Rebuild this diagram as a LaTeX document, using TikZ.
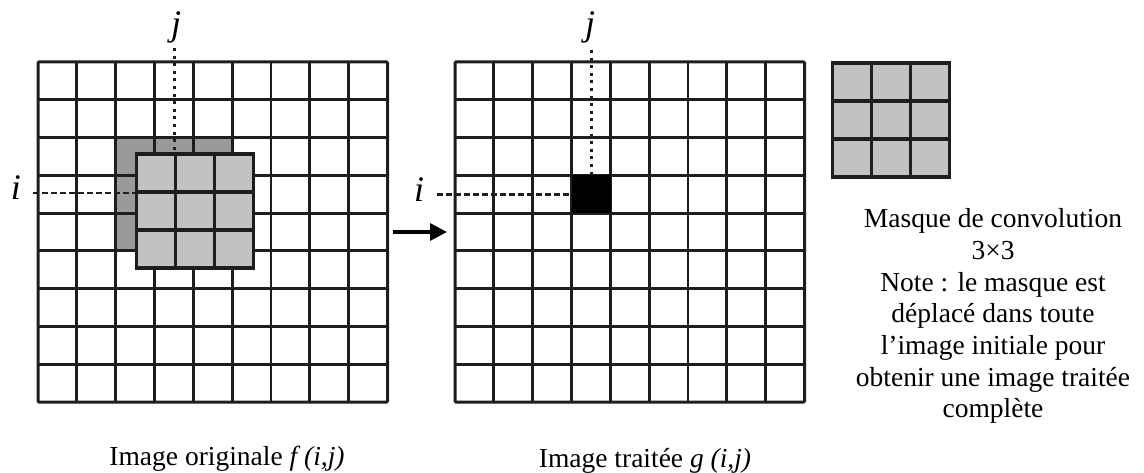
\documentclass[tikz,border=0pt]{standalone}
\usepackage{fontspec}
\setmainfont{Liberation Serif}
\usetikzlibrary{calc,arrows.meta,backgrounds}
\definecolor{gline}{HTML}{1E1E1E}
\definecolor{darkfill}{HTML}{9A9A9A}
\definecolor{lightfill}{HTML}{C2C2C2}
\begin{document}
\begin{tikzpicture}[x=1pt,y=-1pt,
  gridline/.style={draw=gline,line width=2.9pt},
  gridbox/.style={draw=gline,line width=3pt,minimum width=349.5pt,minimum height=340pt,inner sep=0pt,outer sep=0pt,rounded corners=1pt},
  maskbox/.style={draw=gline,line width=3.2pt,fill=lightfill,minimum width=117pt,minimum height=114pt,inner sep=0pt,outer sep=0pt},
  maskline/.style={draw=gline,line width=3.2pt},
  pixbox/.style={fill=black,minimum width=38.8pt,minimum height=37.8pt,inner sep=0pt,outer sep=0pt},
  lbl/.style={font=\fontsize{27.5}{31.7}\selectfont,inner sep=0pt},
  idx/.style={font=\fontsize{36}{40}\selectfont\itshape,inner sep=0pt,anchor=base},
  dotline/.style={draw=gline,line width=3pt,dash pattern=on 3pt off 4.6pt},
  dashline/.style={draw=gline,line width=2.8pt,dash pattern=on 5.5pt off 3.5pt},
]
\useasboundingbox (0,0) rectangle (1144,473);

% ---------- left grid: original image ----------
\node[gridbox] (L) at (212.75,232) {};
\node[maskbox] (M1) at (195,211) {};
\foreach \k in {1,2} {
  \draw[maskline] ($(M1.north west)!\k/3!(M1.north east)$) -- ($(M1.south west)!\k/3!(M1.south east)$);
  \draw[maskline] ($(M1.north west)!\k/3!(M1.south west)$) -- ($(M1.north east)!\k/3!(M1.south east)$);
}
\node[idx] (jl) at (176,36) {j};
\node[idx] (il) at (16,200) {i};
\coordinate (jLs) at (174.5,48);
\coordinate (iLs) at (33,193);
\begin{scope}[on background layer]
  \fill[darkfill] (115.7,137.6) rectangle (232.2,250.9);
  \foreach \k in {1,...,8} {
    \draw[gridline] ($(L.north west)!\k/9!(L.north east)$) -- ($(L.south west)!\k/9!(L.south east)$);
    \draw[gridline] ($(L.north west)!\k/9!(L.south west)$) -- ($(L.north east)!\k/9!(L.south east)$);
  }
  \draw[dotline] (jLs) -- (jLs |- M1.north);
  \draw[dashline] (iLs) -- (iLs -| M1.west);
\end{scope}

% ---------- right grid: processed image ----------
\node[gridbox] (R) at (629.75,232) {};
\foreach \k in {1,...,8} {
  \draw[gridline] ($(R.north west)!\k/9!(R.north east)$) -- ($(R.south west)!\k/9!(R.south east)$);
  \draw[gridline] ($(R.north west)!\k/9!(R.south west)$) -- ($(R.north east)!\k/9!(R.south east)$);
}
\node[pixbox] (P) at (591.2,194.2) {};
\node[idx] (jr) at (590,36) {j};
\node[idx] (ir) at (419,202) {i};
\coordinate (jRs) at (591.2,50);
\coordinate (iRs) at (437,194.2);
\draw[dotline] (jRs) -- (P.north);
\draw[dashline] (iRs) -- (P.west);

% ---------- arrow ----------
\draw[draw=black,line width=3.2pt,-{Triangle[length=17pt,width=17pt]},shorten <=5pt,shorten >=8pt] (L.east) -- (R.west);

% ---------- mask ----------
\node[maskbox] (M2) at (891,120) {};
\foreach \k in {1,2} {
  \draw[maskline] ($(M2.north west)!\k/3!(M2.north east)$) -- ($(M2.south west)!\k/3!(M2.south east)$);
  \draw[maskline] ($(M2.north west)!\k/3!(M2.south west)$) -- ($(M2.north east)!\k/3!(M2.south east)$);
}

% ---------- texts ----------
\node[lbl,align=center,anchor=north] (note) at (993,208.5) {Masque de convolution\\3×3\\Note : le masque est\\déplacé dans toute\\l’image initiale pour\\obtenir une image traitée\\complète};
\node[lbl,anchor=base] (capL) at (227,465) {Image originale \textit{f (i,j)}};
\node[lbl,anchor=base] (capR) at (645,467) {Image traitée \textit{g (i,j)}};
\end{tikzpicture}
\end{document}
